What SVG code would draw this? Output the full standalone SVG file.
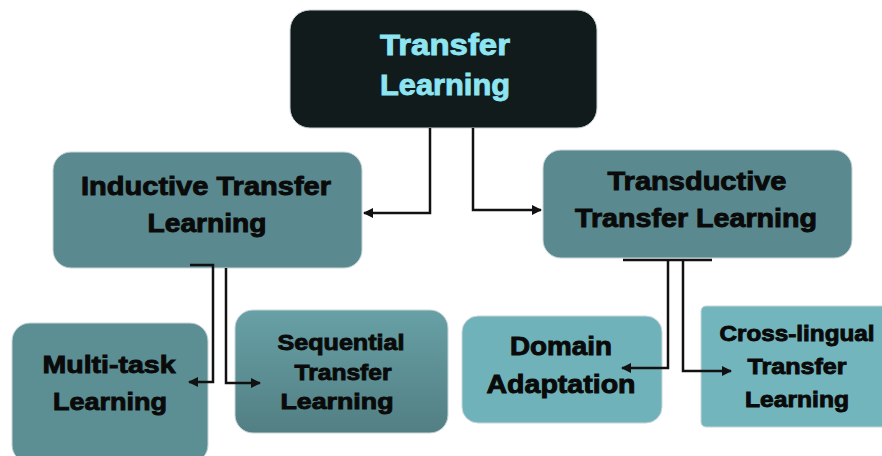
<svg xmlns="http://www.w3.org/2000/svg" width="882" height="456" viewBox="0 0 882 456">
  <defs>
    <marker id="arrow" viewBox="0 0 10 10" refX="9" refY="5" markerWidth="4" markerHeight="4" orient="auto-start-reverse" markerUnits="strokeWidth">
      <path d="M0,0 L10,5 L0,10 z" fill="#111"/>
    </marker>
    <linearGradient id="seqFill" x1="0" y1="0" x2="0" y2="1">
      <stop offset="0" stop-color="#67a0a6"/>
      <stop offset="1" stop-color="#527f83"/>
    </linearGradient>
  </defs>
  <style>
    .box { stroke: #c9d6d8; stroke-width: 1; }
    .lbl { font-family: "Liberation Sans", Arial, sans-serif; font-weight: bold; fill: #0a0a0a; stroke: #0a0a0a; stroke-width: 0.9; text-anchor: middle; }
    .root { fill: #8ee5f2; stroke: #8ee5f2; }
    .wire { fill: none; stroke: #111; stroke-width: 2.5; }
  </style>
  <rect width="882" height="456" fill="#ffffff"/>

  <g id="transfer-learning">
    <rect class="box" x="290" y="10" width="307" height="118" rx="20" fill="#121b1c"/>
    <text class="lbl root" x="445" y="55" font-size="30" textLength="130" lengthAdjust="spacingAndGlyphs">Transfer</text>
    <text class="lbl root" x="445" y="95" font-size="30" textLength="130" lengthAdjust="spacingAndGlyphs">Learning</text>
  </g>

  <g id="inductive">
    <rect class="box" x="53" y="152" width="309" height="116" rx="18" fill="#5a8a8f"/>
    <text class="lbl" x="206" y="195" font-size="25" textLength="250" lengthAdjust="spacingAndGlyphs">Inductive Transfer</text>
    <text class="lbl" x="207" y="232" font-size="25" textLength="119" lengthAdjust="spacingAndGlyphs">Learning</text>
  </g>

  <g id="transductive">
    <rect class="box" x="543" y="150" width="309" height="108" rx="18" fill="#5a8a90"/>
    <text class="lbl" x="697" y="190" font-size="25" textLength="179" lengthAdjust="spacingAndGlyphs">Transductive</text>
    <text class="lbl" x="696" y="227" font-size="25" textLength="242" lengthAdjust="spacingAndGlyphs">Transfer Learning</text>
  </g>

  <g id="multi-task">
    <rect class="box" x="12" y="323" width="196" height="140" rx="18" fill="#5c8f94"/>
    <text class="lbl" x="109" y="373" font-size="24" textLength="133" lengthAdjust="spacingAndGlyphs">Multi-task</text>
    <text class="lbl" x="110" y="410" font-size="24" textLength="114" lengthAdjust="spacingAndGlyphs">Learning</text>
  </g>

  <g id="sequential">
    <rect class="box" x="235" y="310" width="213" height="123" rx="18" fill="url(#seqFill)"/>
    <text class="lbl" x="341" y="350" font-size="22" textLength="127" lengthAdjust="spacingAndGlyphs">Sequential</text>
    <text class="lbl" x="343" y="380" font-size="22" textLength="97" lengthAdjust="spacingAndGlyphs">Transfer</text>
    <text class="lbl" x="337" y="409" font-size="22" textLength="113" lengthAdjust="spacingAndGlyphs">Learning</text>
  </g>

  <g id="domain-adaptation">
    <rect class="box" x="462" y="316" width="200" height="107" rx="16" fill="#70b2ba"/>
    <text class="lbl" x="561" y="355" font-size="25" textLength="102" lengthAdjust="spacingAndGlyphs">Domain</text>
    <text class="lbl" x="561" y="393" font-size="25" textLength="149" lengthAdjust="spacingAndGlyphs">Adaptation</text>
  </g>

  <g id="cross-lingual">
    <rect class="box" x="701" y="306" width="190" height="121" rx="5" fill="#73b5bd"/>
    <text class="lbl" x="797" y="341" font-size="22" textLength="155" lengthAdjust="spacingAndGlyphs">Cross-lingual</text>
    <text class="lbl" x="797" y="374" font-size="22" textLength="99" lengthAdjust="spacingAndGlyphs">Transfer</text>
    <text class="lbl" x="797" y="407" font-size="22" textLength="104" lengthAdjust="spacingAndGlyphs">Learning</text>
  </g>

  <!-- connectors sit above the boxes so the arrow tips show inside them -->
  <g id="connectors">
    <path class="wire" d="M430,128 V213 H364" marker-end="url(#arrow)"/>
    <path class="wire" d="M473,128 V210 H541" marker-end="url(#arrow)"/>
    <path class="wire" d="M190,265 H213 V382 H189" marker-end="url(#arrow)"/>
    <path class="wire" d="M226,268 V383 H260" marker-end="url(#arrow)"/>
    <path class="wire" d="M623,260 H712"/>
    <path class="wire" d="M668,260 V368 H622" marker-end="url(#arrow)"/>
    <path class="wire" d="M683,260 V371 H731" marker-end="url(#arrow)"/>
  </g>
</svg>
